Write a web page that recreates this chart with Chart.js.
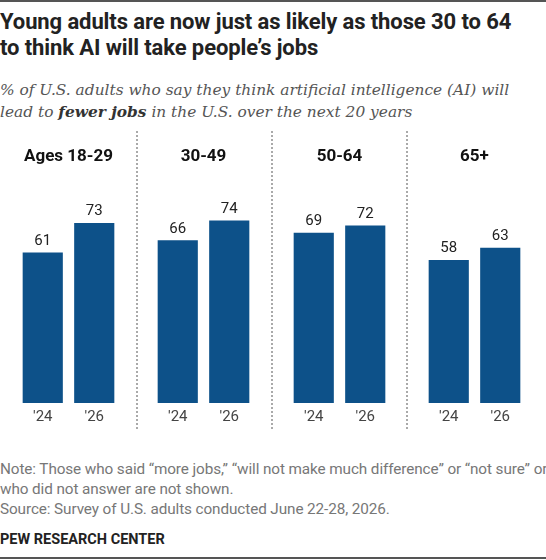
<!DOCTYPE html>
<html>
<head>
<meta charset="utf-8">
<script src="https://cdn.jsdelivr.net/npm/chart.js@4.4.1/dist/chart.umd.min.js"></script>
<style>
  body { margin: 0; background: #fff; width: 546px; height: 560px; position: relative; overflow: hidden; font-family: Roboto, "Liberation Sans", sans-serif; }
  .rule { position: absolute; left: 0; width: 546px; height: 2px; background: #555; }
  .title { position: absolute; left: 0; top: 9px; font-size: 22px; font-weight: 700; line-height: 26px; color: #222; width: 560px; letter-spacing: -0.1px; }
  .subtitle { position: absolute; left: 0; top: 79px; font-family: "DejaVu Serif", serif; font-style: italic; font-size: 15.4px; line-height: 22px; color: #555; width: 560px; }
  .subtitle b { color: #333; }
  .panel { position: absolute; top: 130px; width: 135px; height: 300px; }
  .sep { position: absolute; top: 131px; height: 298px; width: 0; border-left: 2px dotted #aaa; }
  .note { position: absolute; left: 0; top: 459px; font-size: 15.3px; line-height: 20px; color: #777; width: 580px; letter-spacing: -0.1px; }
  .logo { position: absolute; left: 0; top: 531px; font-size: 14.5px; font-weight: 700; color: #222; }
</style>
</head>
<body>
<div class="rule" style="top:0"></div>
<div class="title">Young adults are now just as likely as those 30 to 64<br>to think AI will take people’s jobs</div>
<div class="subtitle">% of U.S. adults who say they think artificial intelligence (AI) will<br>lead to <b>fewer jobs</b> in the U.S. over the next 20 years</div>

<div class="panel" style="left:1px"><canvas id="c0"></canvas></div>
<div class="panel" style="left:136px"><canvas id="c1"></canvas></div>
<div class="panel" style="left:272px"><canvas id="c2"></canvas></div>
<div class="panel" style="left:407px"><canvas id="c3"></canvas></div>
<div class="sep" style="left:136px"></div>
<div class="sep" style="left:271px"></div>
<div class="sep" style="left:406px"></div>

<div class="note">Note: Those who said “more jobs,” “will not make much difference” or “not sure” or<br>who did not answer are not shown.<br>Source: Survey of U.S. adults conducted June 22-28, 2026.</div>
<div class="logo">PEW RESEARCH CENTER</div>
<div class="rule" style="top:557px"></div>

<script>
const groups = ["Ages 18-29", "30-49", "50-64", "65+"];
const years = ["'24", "'26"];
const values2024 = [61, 66, 69, 58];
const values2026 = [73, 74, 72, 63];

const barColor = "#0d5189";

const valueLabels = {
    id: "valueLabels",
    afterDatasetsDraw(chart) {
        const ctx = chart.ctx;
        const meta = chart.getDatasetMeta(0);
        ctx.save();
        ctx.font = "15px Roboto, 'Liberation Sans', sans-serif";
        ctx.fillStyle = "#222";
        ctx.textAlign = "center";
        ctx.textBaseline = "bottom";
        meta.data.forEach(function (bar, i) {
            ctx.fillText(chart.data.datasets[0].data[i], bar.x, bar.y - 4);
        });
        ctx.restore();
    }
};

groups.forEach(function (name, g) {
    new Chart(document.getElementById("c" + g), {
        type: "bar",
        data: {
            labels: years,
            datasets: [{
                data: [values2024[g], values2026[g]],
                backgroundColor: barColor,
                borderWidth: 0,
                barPercentage: 0.78,
                categoryPercentage: 1
            }]
        },
        options: {
            responsive: true,
            maintainAspectRatio: false,
            animation: false,
            events: [],
            layout: { padding: { left: 16, right: 16, top: 0, bottom: 0 } },
            plugins: {
                legend: { display: false },
                tooltip: { enabled: false },
                title: {
                    display: true,
                    text: name,
                    color: "#111",
                    font: { size: 17, weight: "bold", family: "Roboto, 'Liberation Sans', sans-serif", lineHeight: 1.2 },
                    padding: { top: 17, bottom: 26 }
                }
            },
            scales: {
                x: {
                    grid: { display: false, drawTicks: false },
                    border: { display: false },
                    ticks: {
                        color: "#444",
                        padding: 5,
                        font: { size: 15, family: "Roboto, 'Liberation Sans', sans-serif" }
                    },
                    afterFit: function (scale) { scale.height = 27; }
                },
                y: {
                    display: false,
                    min: 0,
                    max: 85
                }
            }
        },
        plugins: [valueLabels]
    });
});
</script>
</body>
</html>
